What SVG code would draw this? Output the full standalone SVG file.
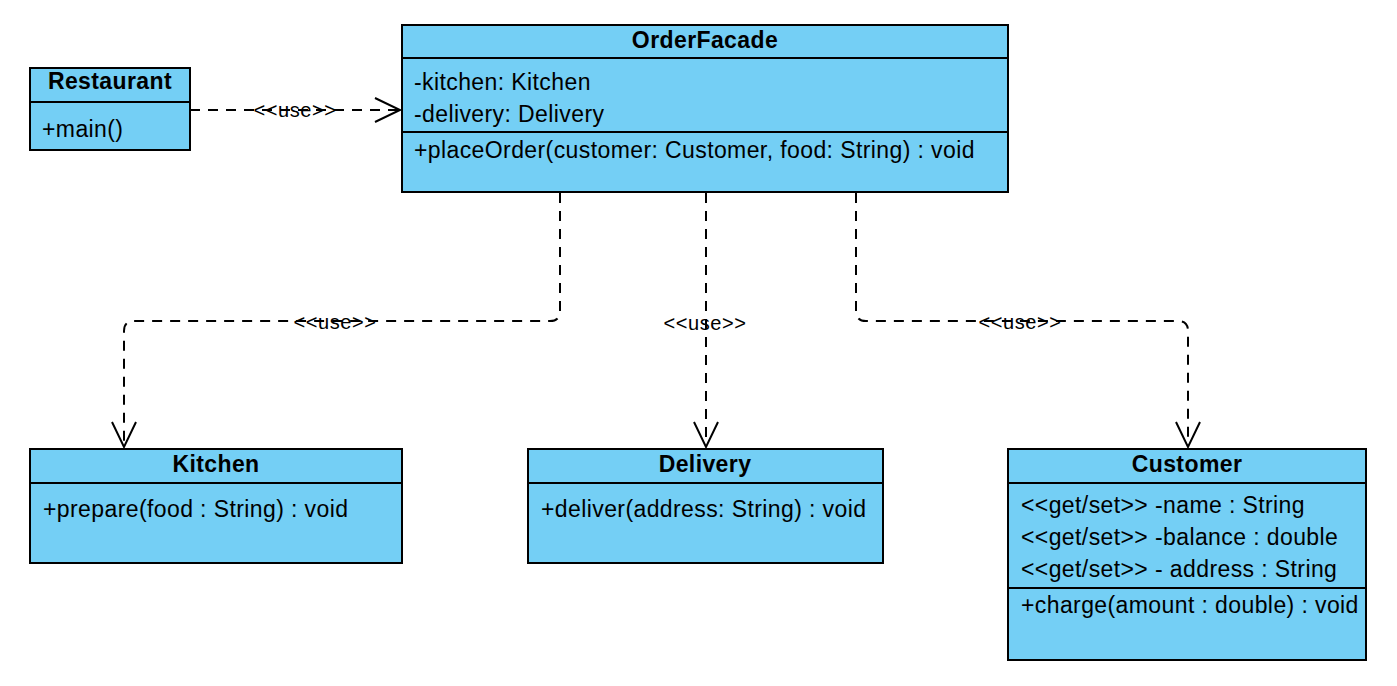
<svg xmlns="http://www.w3.org/2000/svg" width="1397" height="686" viewBox="0 0 1397 686">
<style>
.box{fill:#74CFF5;stroke:#000;stroke-width:2}
.div{stroke:#000;stroke-width:2;fill:none}
.t{font-family:"Liberation Sans",Arial,sans-serif;font-size:23px;letter-spacing:0.4px;fill:#000}
.b{font-weight:bold;text-anchor:middle}
.conn{fill:none;stroke:#000;stroke-width:2;stroke-dasharray:10 8}
.lbl{font-family:"Liberation Sans",Arial,sans-serif;font-size:20px;letter-spacing:0.6px;text-anchor:middle;fill:#000}
</style>
<defs>
<marker id="open" markerWidth="30" markerHeight="30" refX="26" refY="13" orient="auto" markerUnits="userSpaceOnUse">
<path d="M1,1 L26,13 L1,25" fill="none" stroke="#000" stroke-width="2"/>
</marker>
</defs>
<rect width="1397" height="686" fill="#fff"/>
<g id="connectors">
<path class="conn" d="M190,110 L400,110" marker-end="url(#open)"/>
<path class="conn" d="M560,193 L560,311 Q560,321 550,321 L134,321 Q124,321 124,331 L124,447" marker-end="url(#open)"/>
<path class="conn" d="M706,193 L706,447" marker-end="url(#open)"/>
<path class="conn" d="M856,193 L856,311 Q856,321 866,321 L1178,321 Q1188,321 1188,331 L1188,447" marker-end="url(#open)"/>
<text class="lbl" x="295" y="117">&lt;&lt;use&gt;&gt;</text>
<text class="lbl" x="335" y="329">&lt;&lt;use&gt;&gt;</text>
<text class="lbl" x="705" y="330">&lt;&lt;use&gt;&gt;</text>
<text class="lbl" x="1020" y="329">&lt;&lt;use&gt;&gt;</text>
</g>
<g id="Restaurant">
<rect class="box" x="30" y="68" width="160" height="82"/>
<line class="div" x1="30" y1="102" x2="190" y2="102"/>
<text class="t b" x="110" y="89">Restaurant</text>
<text class="t" x="42" y="137">+main()</text>
</g>
<g id="OrderFacade">
<rect class="box" x="402" y="25" width="606" height="167"/>
<line class="div" x1="402" y1="58" x2="1008" y2="58"/>
<line class="div" x1="402" y1="132" x2="1008" y2="132"/>
<text class="t b" x="705" y="48">OrderFacade</text>
<text class="t" x="414" y="90">-kitchen: Kitchen</text>
<text class="t" x="414" y="122">-delivery: Delivery</text>
<text class="t" x="414" y="158">+placeOrder(customer: Customer, food: String) : void</text>
</g>
<g id="Kitchen">
<rect class="box" x="30" y="449" width="372" height="114"/>
<line class="div" x1="30" y1="483" x2="402" y2="483"/>
<text class="t b" x="216" y="472">Kitchen</text>
<text class="t" x="43" y="517">+prepare(food : String) : void</text>
</g>
<g id="Delivery">
<rect class="box" x="528" y="449" width="355" height="114"/>
<line class="div" x1="528" y1="483" x2="883" y2="483"/>
<text class="t b" x="705" y="472">Delivery</text>
<text class="t" x="541" y="517">+deliver(address: String) : void</text>
</g>
<g id="Customer">
<rect class="box" x="1008" y="449" width="358" height="211"/>
<line class="div" x1="1008" y1="483" x2="1366" y2="483"/>
<line class="div" x1="1008" y1="588" x2="1366" y2="588"/>
<text class="t b" x="1187" y="472">Customer</text>
<text class="t" x="1021" y="513">&lt;&lt;get/set&gt;&gt; -name : String</text>
<text class="t" x="1021" y="545">&lt;&lt;get/set&gt;&gt; -balance : double</text>
<text class="t" x="1021" y="577">&lt;&lt;get/set&gt;&gt; - address : String</text>
<text class="t" x="1021" y="613">+charge(amount : double) : void</text>
</g>
</svg>
